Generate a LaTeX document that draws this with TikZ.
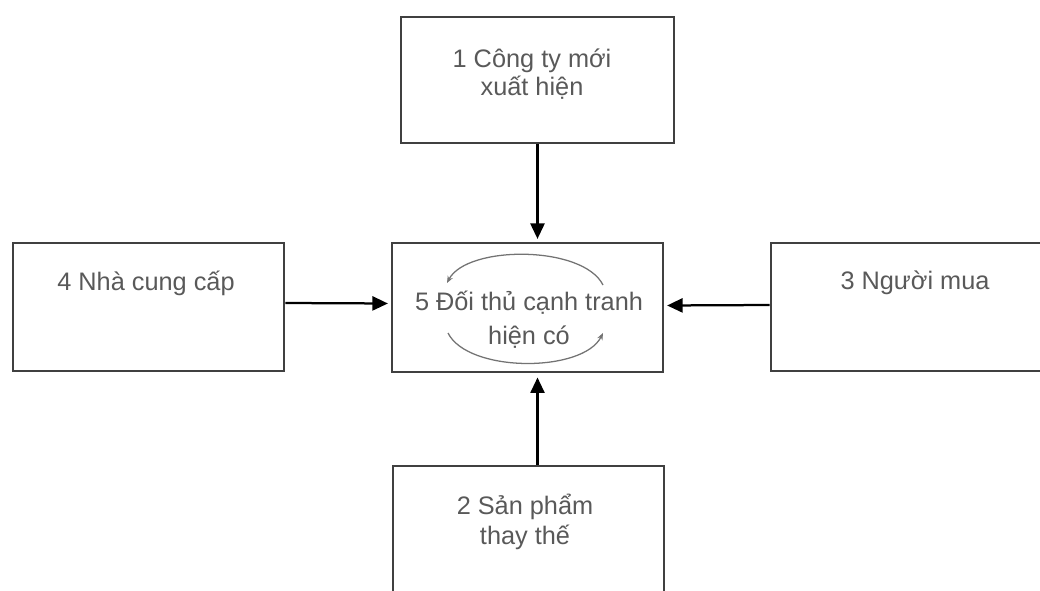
\documentclass[tikz,border=0pt]{standalone}
\usepackage{fontspec}
\setmainfont{Liberation Sans}
\usetikzlibrary{arrows.meta}

\begin{document}
\begin{tikzpicture}[x=0.025cm,y=-0.025cm,
    >={Triangle[length=11pt,width=10pt]},
    box/.style={draw=black!75,line width=1.8pt,rectangle,inner sep=0pt},
    txt/.style={text=black!65,align=center,inner sep=0pt},
    turn/.style={draw=black!55,line width=0.9pt,-{Stealth[length=5pt,width=4pt]}}]
  \useasboundingbox (0,0) rectangle (1040,591);
  % the five boxes
  \node[box,minimum width=6.825cm,minimum height=3.15cm] (new) at (537.5,80) {};
  \node[box,minimum width=6.775cm,minimum height=3.225cm] (rival) at (527.5,307.5) {};
  \node[box,minimum width=6.775cm,minimum height=3.2cm] (supp) at (148.5,307) {};
  \node[box,minimum width=6.875cm,minimum height=3.2cm] (buyer) at (908.5,307) {};
  \node[box,minimum width=6.775cm,minimum height=3.35cm] (sub) at (528.5,533) {};

  \node[txt,font=\fontsize{18}{20}\selectfont] (newt) at (532,74) {1 Công ty mới\\xuất hiện};
  \node[txt,font=\fontsize{18}{24}\selectfont] (rivalt) at (529,320) {5 Đối thủ cạnh tranh\\hiện có};
  \node[txt,font=\fontsize{18}{21}\selectfont] (supt) at (146,283) {4 Nhà cung cấp};
  \node[txt,font=\fontsize{18}{21}\selectfont] (buyt) at (915,283) {3 Người mua};
  \node[txt,font=\fontsize{18}{21}\selectfont] (subt) at (525,522) {2 Sản phẩm\\thay thế};

  \draw[->,line width=1.6pt,shorten >=2pt] (new.south) -- (new.south |- rival.north);
  \draw[->,line width=1.6pt,shorten >=3pt] (new.south |- sub.north) -- (new.south |- rival.south);
  \draw[->,line width=1.6pt,shorten >=2pt] ([yshift=0.1cm]supp.east) -- ([yshift=0.1cm]rival.west);
  \draw[->,line width=1.6pt,shorten >=2pt] ([yshift=0.05cm]buyer.west) -- ([yshift=0.05cm]rival.east);

  % rivalry inside the middle box
  \coordinate (r1) at (603,285);
  \coordinate (r2) at (447,283);
  \coordinate (r3) at (448,333);
  \coordinate (r4) at (603,333);
  \draw[turn] (r1) .. controls (583,245) and (467,245) .. (r2);
  \draw[turn] (r3) .. controls (468,373) and (583,373) .. (r4);
\end{tikzpicture}
\end{document}
